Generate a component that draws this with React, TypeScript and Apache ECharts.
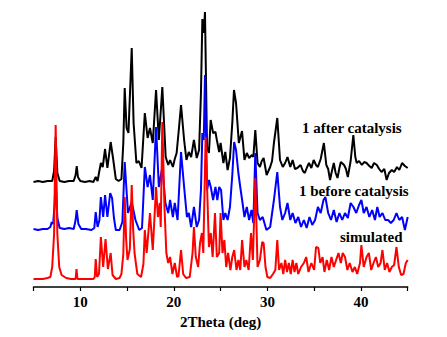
import React, { useEffect, useRef } from "react";
import * as echarts from "echarts";

// 2Theta (deg), relative intensity (a.u.) for each pattern
const afterCatalysis: [number, number][] = [
  [5.0, 1], [5.5, 2], [6.0, 1], [6.5, 2], [7.0, 2], [7.2, 12], [7.37, 46], [7.55, 10], [7.8, 2],
  [8.3, 1], [8.8, 2], [9.3, 2], [9.5, 8], [9.62, 17], [9.75, 6], [10.0, 2], [10.5, 1], [11.0, 2],
  [11.4, 1], [11.65, 6], [11.85, 2], [12.0, 10], [12.2, 20], [12.4, 16], [12.65, 34], [12.9, 15],
  [13.25, 41], [13.5, 25], [13.8, 4], [14.1, 2], [14.4, 4], [14.6, 40], [14.75, 95], [14.95, 55],
  [15.15, 50], [15.5, 135], [15.7, 60], [16.0, 20], [16.25, 22], [16.55, 15], [16.9, 70], [17.2, 45],
  [17.45, 55], [17.75, 40], [18.1, 93], [18.4, 43], [18.77, 96], [19.13, 26], [19.4, 18], [19.6, 23],
  [19.9, 16], [20.1, 24], [20.3, 30], [20.55, 55], [20.77, 78], [21.1, 43], [21.35, 23], [21.6, 31],
  [21.85, 26], [22.15, 43], [22.45, 25], [22.7, 33], [22.9, 90], [23.05, 164], [23.2, 150],
  [23.33, 171], [23.55, 36], [23.75, 30], [23.94, 63], [24.2, 50], [24.45, 51], [24.6, 43],
  [24.85, 31], [25.0, 40], [25.3, 20], [25.5, 31], [25.75, 13], [26.0, 25], [26.25, 60], [26.43, 93],
  [26.65, 80], [26.95, 40], [27.29, 52], [27.55, 23], [27.8, 30], [28.05, 25], [28.35, 28], [28.5, 26],
  [28.71, 53], [28.95, 20], [29.2, 16], [29.4, 22], [29.6, 25], [29.92, 8], [30.3, 16], [30.5, 22],
  [30.7, 40], [31.06, 65], [31.35, 23], [31.65, 16], [31.9, 20], [32.15, 26], [32.45, 16], [32.7, 23],
  [32.95, 14], [33.2, 15], [33.55, 18], [33.8, 12], [34.0, 10], [34.25, 16], [34.45, 20], [34.7, 15],
  [34.95, 23], [35.2, 18], [35.4, 16], [35.7, 24], [36.04, 40], [36.3, 18], [36.5, 14], [36.7, 3],
  [36.9, 12], [37.1, 20], [37.3, 10], [37.5, 5], [37.7, 15], [37.85, 21], [38.2, 18], [38.4, 14],
  [38.6, 6], [38.9, 22], [39.19, 48], [39.4, 26], [39.55, 20], [39.8, 22], [40.1, 18], [40.35, 21],
  [40.6, 20], [40.9, 17], [41.15, 15], [41.4, 20], [41.7, 18], [41.95, 14], [42.2, 11], [42.5, 14],
  [42.75, 3], [43.0, 10], [43.3, 13], [43.55, 11], [43.85, 16], [44.1, 13], [44.4, 20], [44.7, 17],
  [45.0, 15],
];

const beforeCatalysis: [number, number][] = [
  [5.0, 1], [5.5, 0], [6.0, 1], [6.5, 1], [6.8, 3], [6.95, 8], [7.1, 6], [7.25, 25], [7.37, 50],
  [7.55, 12], [7.8, 2], [8.3, 1], [8.8, 2], [9.3, 1], [9.5, 10], [9.62, 20], [9.8, 6], [10.1, 1],
  [10.6, 1], [11.2, 0], [11.5, 2], [11.65, 18], [11.85, 3], [12.05, 10], [12.2, 33], [12.45, 13],
  [12.65, 35], [12.9, 13], [13.2, 37], [13.4, 32], [13.6, 12], [13.8, 0], [14.2, 0], [14.5, 8],
  [14.75, 68], [15.1, 17], [15.5, 28], [15.9, 10], [16.3, 0], [16.6, 2], [16.9, 63], [17.2, 43],
  [17.45, 55], [17.75, 30], [18.1, 103], [18.4, 43], [18.77, 63], [19.1, 27], [19.4, 17], [19.6, 30],
  [19.9, 13], [20.1, 27], [20.4, 10], [20.77, 78], [21.1, 43], [21.4, 13], [21.6, 17], [21.85, 3],
  [22.15, 23], [22.45, 3], [22.7, 10], [22.9, 40], [23.05, 97], [23.2, 90], [23.33, 155], [23.55, 40],
  [23.75, 50], [23.95, 43], [24.2, 30], [24.45, 43], [24.65, 30], [24.85, 43], [25.05, 40], [25.3, 10],
  [25.5, 17], [25.75, 10], [26.0, 23], [26.25, 55], [26.45, 88], [26.65, 80], [26.9, 57], [27.1, 43],
  [27.3, 30], [27.55, 13], [27.8, 23], [28.05, 10], [28.3, 20], [28.5, 7], [28.71, 77], [28.95, 17],
  [29.2, 10], [29.5, 13], [29.9, 0], [30.3, 3], [30.7, 30], [31.06, 58], [31.35, 23], [31.6, 10],
  [31.9, 17], [32.15, 27], [32.45, 10], [32.7, 17], [33.0, 7], [33.3, 13], [33.6, 3], [33.9, 10],
  [34.2, 2], [34.5, 13], [34.8, 5], [35.1, 10], [35.4, 23], [35.7, 17], [36.0, 30], [36.2, 33],
  [36.5, 17], [36.8, 10], [37.1, 20], [37.4, 8], [37.7, 17], [38.0, 10], [38.3, 17], [38.6, 12],
  [38.9, 27], [39.2, 23], [39.5, 17], [39.8, 25], [40.05, 30], [40.3, 17], [40.6, 23], [40.9, 13],
  [41.2, 20], [41.5, 10], [41.75, 23], [42.0, 13], [42.3, 17], [42.6, 10], [42.9, 10], [43.2, 7],
  [43.5, 10], [43.8, 17], [44.1, 10], [44.4, 13], [44.7, 0], [45.0, 13],
];

const simulated: [number, number][] = [
  [5.0, 0], [6.0, 0], [6.5, 1], [6.8, 2], [7.0, 12], [7.2, 45], [7.37, 154], [7.55, 45], [7.75, 12],
  [8.0, 4], [8.5, 1], [9.0, 0], [9.5, 0], [9.6, 10], [9.7, 0], [10.5, 0], [11.4, 0], [11.55, 2],
  [11.65, 20], [11.8, 2], [12.0, 5], [12.2, 42], [12.45, 12], [12.7, 40], [12.95, 10], [13.25, 26],
  [13.45, 4], [13.8, 0], [14.2, 1], [14.4, 5], [14.6, 25], [14.75, 82], [14.9, 40], [15.05, 19],
  [15.3, 30], [15.5, 94], [15.65, 50], [15.8, 26], [16.1, 5], [16.5, 2], [16.75, 15], [16.9, 49],
  [17.1, 26], [17.45, 66], [17.75, 29], [18.1, 92], [18.3, 62], [18.5, 76], [18.6, 52], [18.77, 157],
  [19.0, 72], [19.2, 26], [19.4, 16], [19.6, 22], [19.85, 5], [20.1, 16], [20.35, 2], [20.5, 3],
  [20.77, 29], [21.0, 5], [21.3, 1], [21.7, 2], [22.0, 26], [22.15, 52], [22.35, 22], [22.6, 12],
  [22.8, 36], [23.0, 46], [23.15, 26], [23.4, 142], [23.6, 79], [23.75, 32], [23.95, 46], [24.15, 22],
  [24.4, 66], [24.6, 22], [24.85, 26], [25.0, 66], [25.2, 26], [25.4, 39], [25.6, 12], [25.8, 26],
  [26.05, 9], [26.25, 22], [26.45, 29], [26.7, 9], [26.9, 19], [27.1, 9], [27.3, 39], [27.55, 12],
  [27.75, 19], [28.0, 9], [28.25, 46], [28.45, 19], [28.71, 101], [28.95, 12], [29.2, 19],
  [29.45, 37], [29.6, 36], [29.8, 12], [30.0, 2], [30.3, 1], [30.6, 5], [30.85, 9], [31.06, 39],
  [31.25, 9], [31.5, 16], [31.7, 5], [31.9, 19], [32.1, 7], [32.3, 16], [32.5, 5], [32.7, 19],
  [32.9, 7], [33.1, 16], [33.3, 5], [33.6, 12], [33.9, 16], [34.15, 22], [34.4, 7], [34.7, 16],
  [35.0, 9], [35.2, 32], [35.45, 31], [35.65, 16], [35.9, 22], [36.1, 7], [36.35, 19], [36.6, 9],
  [36.85, 22], [37.1, 12], [37.35, 19], [37.6, 26], [37.85, 16], [38.05, 26], [38.3, 22], [38.55, 9],
  [38.8, 16], [39.1, 7], [39.35, 12], [39.6, 5], [39.9, 16], [40.05, 34], [40.3, 12], [40.6, 22],
  [40.85, 26], [41.1, 9], [41.35, 16], [41.6, 22], [41.85, 12], [42.1, 16], [42.3, 29], [42.55, 9],
  [42.8, 16], [43.05, 7], [43.3, 12], [43.55, 14], [43.8, 32], [44.05, 12], [44.3, 4], [44.55, 5],
  [44.8, 16], [45.0, 19],
];

const seriesNames = ["1 after catalysis", "1 before catalysis", "simulated"];
const seriesOffsets = [104, 57, 8];
const seriesColors = ["#000000", "#0000ff", "#ff0000"];
const xTickLabels = [10, 20, 30, 40];

const allData = [afterCatalysis, beforeCatalysis, simulated];

export default function App() {
  const ref = useRef<HTMLDivElement>(null);
  useEffect(() => {
    if (!ref.current) return;
    const chart = echarts.init(ref.current, null, { renderer: "svg" });
    const font = "Liberation Serif, Times New Roman, serif";
    chart.setOption({
      animation: false,
      grid: { left: 33.5, right: 39.3, top: 0, bottom: 50 },
      xAxis: {
        type: "value",
        min: 5,
        max: 45,
        interval: 5,
        name: "2Theta (deg)",
        nameLocation: "middle",
        nameGap: 27,
        nameTextStyle: { fontFamily: font, fontWeight: "bold", fontSize: 15, color: "#000" },
        axisLine: { lineStyle: { color: "#000", width: 1.5 } },
        axisTick: { show: true, length: 4, lineStyle: { color: "#000", width: 1.2 } },
        splitLine: { show: false },
        axisLabel: {
          fontFamily: font,
          fontWeight: "bold",
          fontSize: 15,
          color: "#000",
          margin: 7,
          showMinLabel: true,
          showMaxLabel: true,
          formatter: (v: number) => (xTickLabels.includes(v) ? String(v) : ""),
        },
      },
      yAxis: {
        type: "value",
        min: 0,
        max: 287,
        show: false,
      },
      series: allData.map((d, i) => ({
        type: "line",
        name: seriesNames[i],
        data: d.map(([x, y]) => [x, y + seriesOffsets[i]]),
        symbol: "none",
        lineStyle: { color: seriesColors[i], width: 2 },
        z: 2 + i,
      })),
      graphic: [
        { type: "text", left: 302, top: 120, style: { text: seriesNames[0], fontFamily: font, fontWeight: "bold", fontSize: 15, fill: "#000" } },
        { type: "text", left: 299, top: 183, style: { text: seriesNames[1], fontFamily: font, fontWeight: "bold", fontSize: 15, fill: "#000" } },
        { type: "text", left: 340, top: 229, style: { text: seriesNames[2], fontFamily: font, fontWeight: "bold", fontSize: 15, fill: "#000" } },
      ],
    });
    return () => chart.dispose();
  }, []);
  return <div ref={ref} style={{ position: "absolute", left: 0, top: 0, width: 447, height: 337 }} />;
}
